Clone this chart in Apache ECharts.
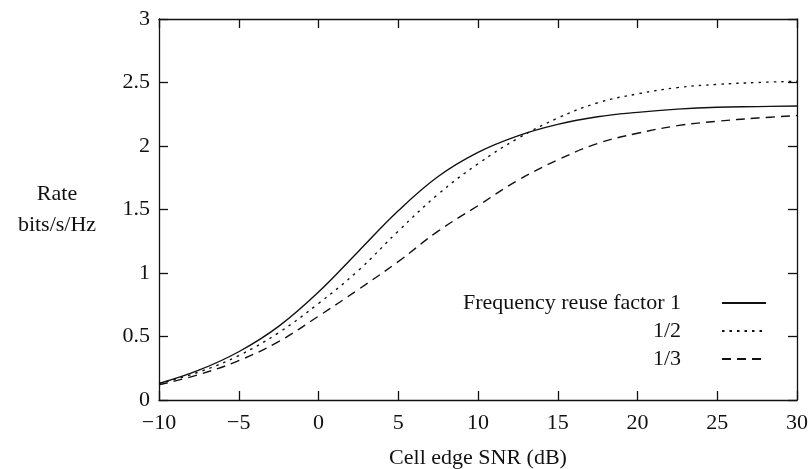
<!DOCTYPE html>
<html>
<head>
<meta charset="utf-8">
<script src="https://cdn.jsdelivr.net/npm/echarts@6/dist/echarts.min.js"></script>
<style>html,body{margin:0;padding:0;background:#fff}#c{width:811px;height:469px}</style>
</head>
<body>
<div id="c"></div>
<script>
var snr = [-10, -7.5, -5, -2.5, 0, 2.5, 5, 7.5, 10, 12.5, 15, 17.5, 20, 22.5, 25, 27.5, 30];
var reuse1 = [0.13, 0.235, 0.38, 0.58, 0.85, 1.17, 1.49, 1.76, 1.95, 2.08, 2.17, 2.23, 2.265, 2.29, 2.305, 2.31, 2.315];
var reuse2 = [0.13, 0.22, 0.35, 0.53, 0.76, 1.02, 1.33, 1.62, 1.86, 2.06, 2.22, 2.34, 2.41, 2.46, 2.485, 2.5, 2.51];
var reuse3 = [0.12, 0.20, 0.31, 0.46, 0.66, 0.87, 1.09, 1.33, 1.53, 1.73, 1.89, 2.02, 2.10, 2.16, 2.195, 2.22, 2.24];
var seriesNames = ['Frequency reuse factor 1', '1/2', '1/3'];
var xTicks = [-10, -5, 0, 5, 10, 15, 20, 25, 30];
var yTicks = [0, 0.5, 1, 1.5, 2, 2.5, 3];

function pairs(xs, ys) { return xs.map(function (x, i) { return [x, ys[i]]; }); }
var FONT = "'Liberation Serif', 'Times New Roman', serif";
var AX = { onZero: false, lineStyle: { color: '#111', width: 1.3 } };
var TICK = { show: true, inside: true, length: 9, lineStyle: { color: '#111', width: 1.3 } };

var chart = echarts.init(document.getElementById('c'), null, { renderer: 'canvas' });
chart.setOption({
  animation: false,
  backgroundColor: '#fff',
  textStyle: { fontFamily: FONT, color: '#111' },
  grid: { left: 159, right: 14, top: 19, bottom: 69, containLabel: false, outerBoundsMode: 'none' },
  legend: {
    orient: 'vertical', align: 'right', right: 39, top: 287,
    itemWidth: 44, itemHeight: 14, itemGap: 6,
    data: seriesNames,
    itemStyle: { color: 'rgba(0,0,0,0)', borderColor: 'rgba(0,0,0,0)', borderWidth: 0, opacity: 0 },
    textStyle: { fontFamily: FONT, fontSize: 22, color: '#111', padding: [0, 36, 0, 0] }
  },
  xAxis: [{
    type: 'value', min: xTicks[0], max: xTicks[xTicks.length - 1], interval: 5,
    name: 'Cell edge SNR (dB)', nameLocation: 'middle', nameGap: 47,
    nameTextStyle: { fontFamily: FONT, fontSize: 22, color: '#111' },
    axisLine: AX, axisTick: TICK, splitLine: { show: false },
    axisLabel: { fontFamily: FONT, fontSize: 22, color: '#111', margin: 12,
      formatter: function (v) { return String(v).replace('-', '\u2212'); } }
  }, {
    type: 'value', position: 'top', min: xTicks[0], max: xTicks[xTicks.length - 1], interval: 5,
    axisLine: AX, axisTick: TICK, axisLabel: { show: false }, splitLine: { show: false }
  }],
  yAxis: [{
    type: 'value', min: yTicks[0], max: yTicks[yTicks.length - 1], interval: 0.5,
    name: 'Rate\nbits/s/Hz', nameLocation: 'middle', nameRotate: 0, nameGap: 102,
    nameTextStyle: { fontFamily: FONT, fontSize: 22, color: '#111', align: 'center', verticalAlign: 'middle', lineHeight: 31, padding: [22, 0, 0, 0] },
    axisLine: AX, axisTick: TICK, splitLine: { show: false },
    axisLabel: { fontFamily: FONT, fontSize: 22, color: '#111', margin: 9 }
  }, {
    type: 'value', position: 'right', min: yTicks[0], max: yTicks[yTicks.length - 1], interval: 0.5,
    axisLine: AX, axisTick: TICK, axisLabel: { show: false }, splitLine: { show: false }
  }],
  series: [
    { name: seriesNames[0], type: 'line', smooth: 0.4, symbol: 'none', data: pairs(snr, reuse1),
      lineStyle: { color: '#111', width: 1.4, type: 'solid' }, itemStyle: { color: '#111' } },
    { name: seriesNames[1], type: 'line', smooth: 0.4, symbol: 'none', data: pairs(snr, reuse2),
      lineStyle: { color: '#111', width: 1.4, type: [2.5, 5] }, itemStyle: { color: '#111' } },
    { name: seriesNames[2], type: 'line', smooth: 0.4, symbol: 'none', data: pairs(snr, reuse3),
      lineStyle: { color: '#111', width: 1.4, type: [9, 6] }, itemStyle: { color: '#111' } }
  ]
});
</script>
</body>
</html>
